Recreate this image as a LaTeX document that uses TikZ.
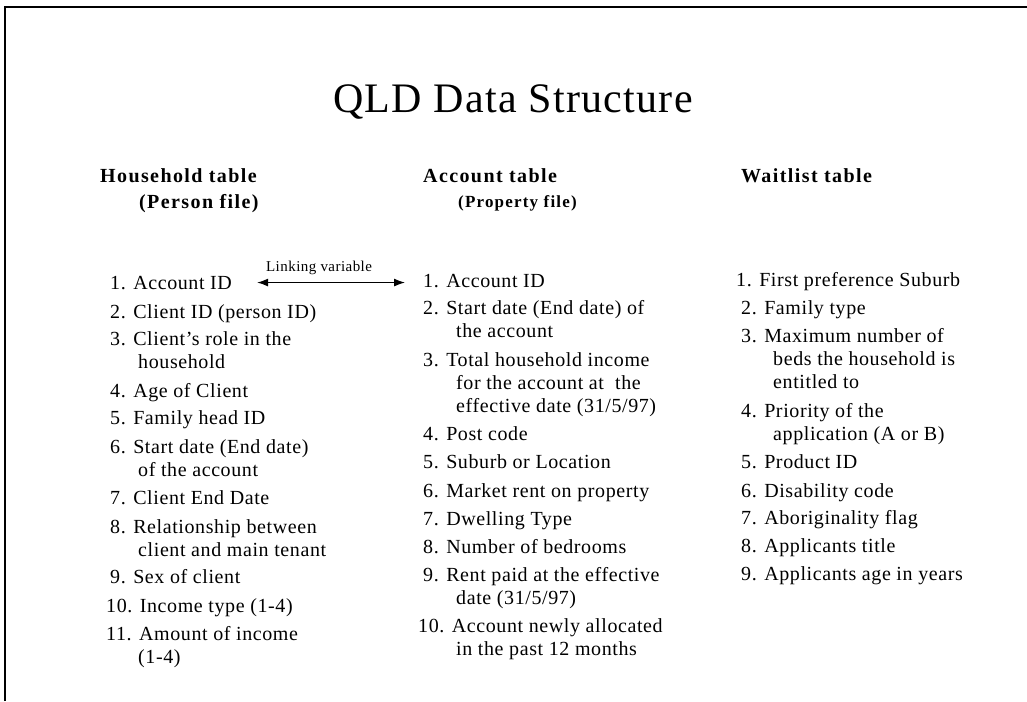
\documentclass[tikz,border=0pt]{standalone}
\usepackage{fontspec}
\setmainfont{Liberation Serif}
\newfontfamily\slidefont[LetterSpace=3]{Liberation Serif}
\newfontfamily\headfont[LetterSpace=7]{Liberation Serif}
\usetikzlibrary{arrows.meta,positioning}
\newcommand{\nxt}[1][30pt]{\\\hspace*{#1}}

\tikzset{
  frame/.style={line width=2pt},
  title/.style={anchor=base, inner sep=0pt, font=\slidefont\fontsize{42}{48}\selectfont},
  tblhead/.style={anchor=base west, inner sep=0pt, font=\headfont\bfseries\fontsize{20}{23}\selectfont},
  tblsub/.style={tblhead, font=\headfont\bfseries\fontsize{17}{20}\selectfont},
  item/.style={anchor=base west, inner sep=0pt, align=left, font=\slidefont\fontsize{20}{23}\selectfont},
  % multi-line items sit on their last line, so drop them by the extra lines
  item2/.style={item, yshift=-23pt},
  item3/.style={item, yshift=-46pt},
  link/.style={line width=1.2pt, {Latex[length=11pt,width=8pt]}-{Latex[length=11pt,width=8pt]}},
  linklbl/.style={inner sep=0pt, font=\slidefont\fontsize{15}{17}\selectfont}
}

\begin{document}
\begin{tikzpicture}[x=1pt,y=-1pt]
  \useasboundingbox (0,0) rectangle (1027,701);
  \draw[frame] (5,701) -- (5,7) -- (1027,7);

  % Title
  \node[title] (T) at (513,112) {QLD Data Structure};

  % Table headings
  \node[tblhead] (H)  at (100,182) {Household table};
  \node[tblhead] (Hs) at (139,208) {(Person file)};
  \node[tblhead] (A)  at (423,182) {Account table};
  \node[tblsub]  (As) at (458,207) {(Property file)};
  \node[tblhead] (W)  at (741,182) {Waitlist table};

  % Household table
  \node[item]  (h1)  at (110,289) {1. Account ID};
  \node[item]  (h2)  at (110,318) {2. Client ID (person ID)};
  \node[item2] (h3)  at (110,345) {3. Client’s role in the\nxt[28pt]household};
  \node[item]  (h4)  at (110,397) {4. Age of Client};
  \node[item]  (h5)  at (110,424) {5. Family head ID};
  \node[item2] (h6)  at (110,453) {6. Start date (End date)\nxt[28pt]of the account};
  \node[item]  (h7)  at (110,504) {7. Client End Date};
  \node[item2] (h8)  at (110,533) {8. Relationship between\nxt[28pt]client and main tenant};
  \node[item]  (h9)  at (110,583) {9. Sex of client};
  \node[item]  (h10) at (106,612) {10. Income type (1-4)};
  \node[item2] (h11) at (106,640) {11. Amount of income\nxt[32pt](1-4)};

  % Account table
  \node[item]  (a1)  at (423,287) {1. Account ID};
  \node[item2] (a2)  at (423,314) {2. Start date (End date) of\nxt[33pt]the account};
  \node[item3] (a3)  at (423,366) {3. Total household income\nxt[33pt]for the account at\ \ the\nxt[33pt]effective date (31/5/97)};
  \node[item]  (a4)  at (423,440) {4. Post code};
  \node[item]  (a5)  at (423,468) {5. Suburb or Location};
  \node[item]  (a6)  at (423,497) {6. Market rent on property};
  \node[item]  (a7)  at (423,525) {7. Dwelling Type};
  \node[item]  (a8)  at (423,553) {8. Number of bedrooms};
  \node[item2] (a9)  at (423,581) {9. Rent paid at the effective\nxt[33pt]date (31/5/97)};
  \node[item2] (a10) at (418,632) {10. Account newly allocated\nxt[38pt]in the past 12 months};

  % Waitlist table
  \node[item]  (w1) at (736,286) {1. First preference Suburb};
  \node[item]  (w2) at (741,314) {2. Family type};
  \node[item3] (w3) at (741,342) {3. Maximum number of\nxt[32pt]beds the household is\nxt[32pt]entitled to};
  \node[item2] (w4) at (741,417) {4. Priority of the\nxt[32pt]application (A or B)};
  \node[item]  (w5) at (741,468) {5. Product ID};
  \node[item]  (w6) at (741,497) {6. Disability code};
  \node[item]  (w7) at (741,524) {7. Aboriginality flag};
  \node[item]  (w8) at (741,552) {8. Applicants title};
  \node[item]  (w9) at (741,580) {9. Applicants age in years};

  % Linking variable
  \draw[link] ([xshift=25pt]h1.east) -- ([xshift=-18pt]h1.east -| a1.west)
    node[linklbl, midway, above=7pt, xshift=-12pt] (lnk) {Linking variable};
\end{tikzpicture}
\end{document}
